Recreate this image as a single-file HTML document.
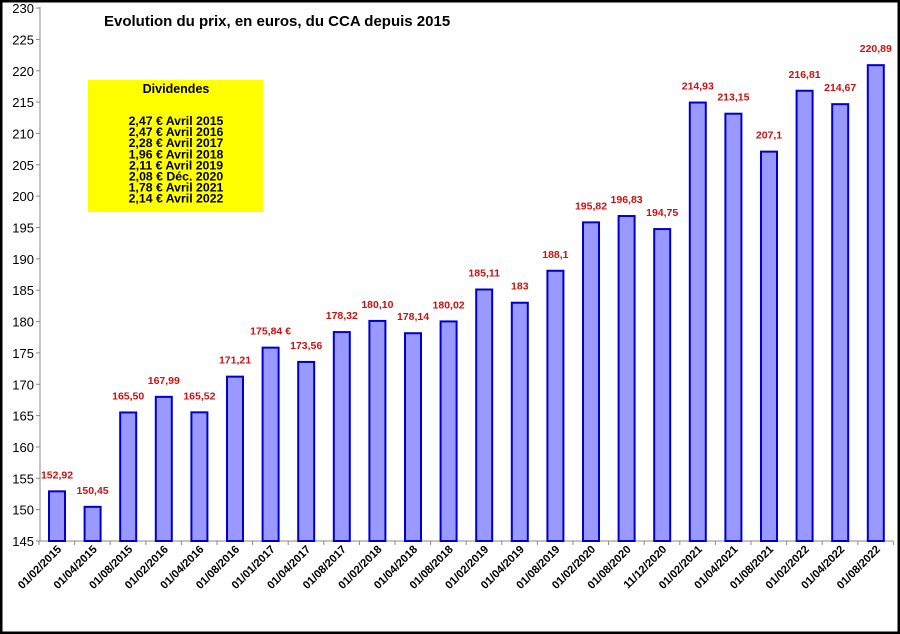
<!DOCTYPE html>
<html><head><meta charset="utf-8"><style>
html,body{margin:0;padding:0;background:#fff}
svg{display:block;font-family:"Liberation Sans",Arial,sans-serif}
</style></head><body>
<svg width="900" height="634" viewBox="0 0 900 634">
<rect x="1" y="1" width="898" height="632" fill="#fff" stroke="#000" stroke-width="3"/>
<g id="ax"></g>
</svg>
<script>
const vals=[152.92,150.45,165.50,167.99,165.52,171.21,175.84,173.56,178.32,180.10,178.14,180.02,185.11,183,188.1,195.82,196.83,194.75,214.93,213.15,207.1,216.81,214.67,220.89];
const labs=["152,92","150,45","165,50","167,99","165,52","171,21","175,84 €","173,56","178,32","180,10","178,14","180,02","185,11","183","188,1","195,82","196,83","194,75","214,93","213,15","207,1","216,81","214,67","220,89"];
const dates=["01/02/2015","01/04/2015","01/08/2015","01/02/2016","01/04/2016","01/08/2016","01/01/2017","01/04/2017","01/08/2017","01/02/2018","01/04/2018","01/08/2018","01/02/2019","01/04/2019","01/08/2019","01/02/2020","01/08/2020","11/12/2020","01/02/2021","01/04/2021","01/08/2021","01/02/2022","01/04/2022","01/08/2022"];
const B=541,K=6.27,X0=40,X1=893,S=35.6;
const y=v=>B-(v-145)*K;
let h='';
h+=`<line x1="${X0}" y1="7" x2="${X0}" y2="${B}" stroke="#888" stroke-width="1"/>`;
h+=`<line x1="${X0}" y1="${B}" x2="${X1}" y2="${B}" stroke="#888" stroke-width="1"/>`;
for(let v=145;v<=230;v+=5){const yy=y(v);h+=`<line x1="${X0-4}" y1="${yy}" x2="${X0}" y2="${yy}" stroke="#888"/><text x="${X0-6}" y="${yy+5}" font-size="13" text-anchor="end" fill="#000">${v}</text>`;}
for(let i=0;i<=24;i++){const xx=39+i*S;h+=`<line x1="${xx}" y1="${B}" x2="${xx}" y2="${B+4}" stroke="#888"/>`;}
vals.forEach((v,i)=>{const x=49+i*S,cx=x+8,t=y(v);
h+=`<rect x="${x}" y="${t}" width="16" height="${B-t}" fill="#9999ff" stroke="#0000cc" stroke-width="2"/>`;
h+=`<text x="${cx}" y="${t-13}" font-size="10.5" font-weight="bold" fill="#cc1111" text-anchor="middle">${labs[i]}</text>`;
h+=`<text transform="translate(${cx+5},${B+9}) rotate(-45)" font-size="11.2" font-weight="bold" text-anchor="end" fill="#000">${dates[i]}</text>`;});
h+=`<text x="104" y="26" font-size="15" font-weight="bold" fill="#000">Evolution du prix, en euros, du CCA depuis 2015</text>`;
h+=`<rect x="88" y="80" width="175" height="132" fill="#ffff00"/>`;
h+=`<text x="176" y="93" font-size="12.5" font-weight="bold" text-anchor="middle">Dividendes</text>`;
["2,47 € Avril 2015","2,47 € Avril 2016","2,28 € Avril 2017","1,96 € Avril 2018","2,11 € Avril 2019","2,08 € Déc. 2020","1,78 € Avril 2021","2,14 € Avril 2022"].forEach((s,i)=>{h+=`<text x="176" y="${125+i*11.1}" font-size="12.3" font-weight="bold" text-anchor="middle">${s}</text>`;});
document.getElementById('ax').innerHTML=h;
</script>
</body></html>
